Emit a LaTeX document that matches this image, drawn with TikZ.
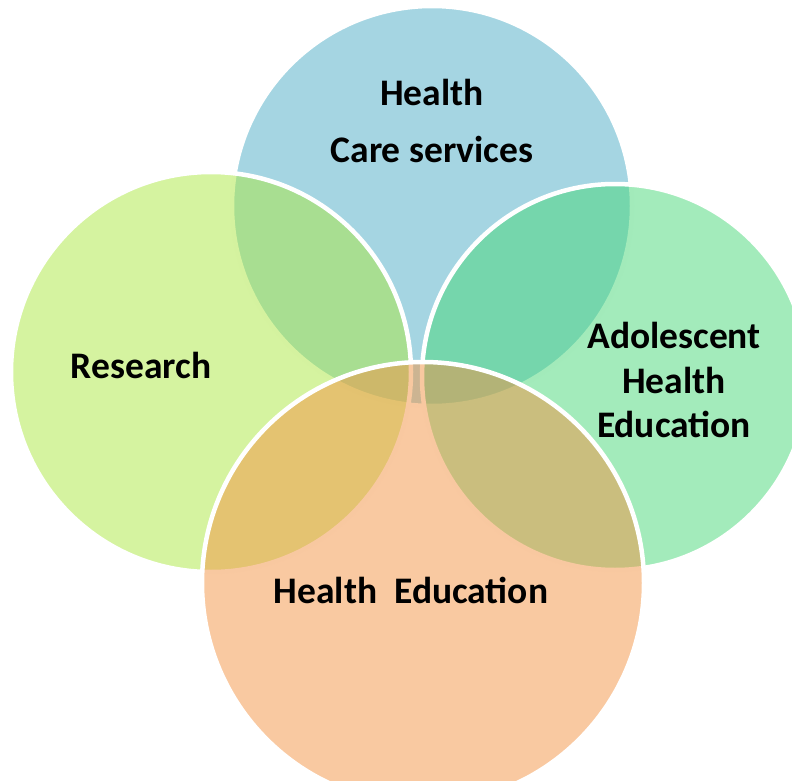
\documentclass[tikz,border=0pt]{standalone}
\usepackage{fontspec}
\setmainfont{Carlito}
\definecolor{cblue}{HTML}{4BACC6}
\definecolor{cyellow}{RGB}{171,231,65}
\definecolor{cgreen}{RGB}{71,215,119}
\definecolor{corange}{HTML}{F39343}
\tikzset{
  circ/.style={draw=white, line width=4.5pt, fill opacity=0.5},
  lbl/.style={anchor=base, font=\fontsize{37.5}{44}\selectfont\bfseries, text=black, inner sep=0pt}
}
\begin{document}
\begin{tikzpicture}[x=1pt,y=-1pt]
\useasboundingbox (0,0) rectangle (792,781);
\clip (0,0) rectangle (792,781);
\path[circ, fill=cblue] (432,206) circle (200);
\path[circ, fill=cyellow] (211,372) circle (200);
\path[circ, fill=cgreen] (615,377) circle (193);
\path[circ, fill=corange] (423,583) circle (221);
\node[lbl] (hc1) at (432,106) {Health};
\node[lbl] (hc2) at (432,162) {Care services};
\node[lbl] (res) at (141,378) {Research};
\node[lbl] (ad1) at (674,348) {Adolescent};
\node[lbl] (ad2) at (674,393) {Health};
\node[lbl] (ad3) at (674,437) {Education};
\node[lbl] (he) at (411,603) {Health\ \ Education};
\end{tikzpicture}
\end{document}
